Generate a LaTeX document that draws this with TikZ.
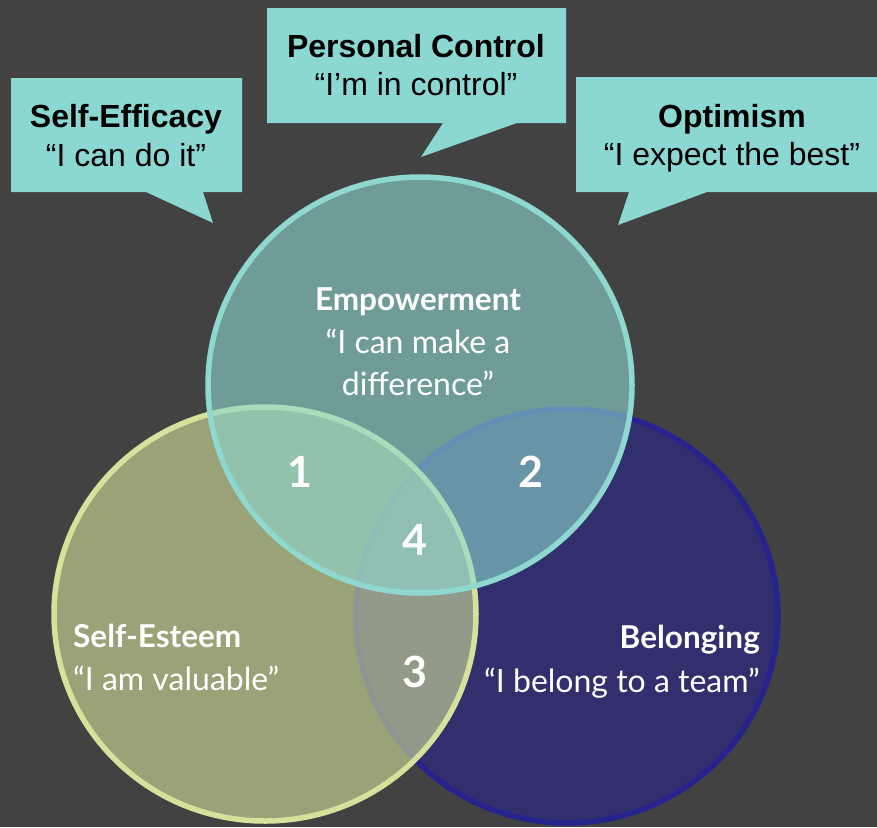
\documentclass[tikz,border=0pt]{standalone}
\usepackage{fontspec}
\setmainfont{Liberation Sans}
\newfontfamily\circfont{Lato}
\definecolor{bgc}{RGB}{66,66,66}
\definecolor{callc}{RGB}{139,216,210}
\definecolor{tealc}{RGB}{142,216,208}
\definecolor{yelc}{RGB}{214,226,156}
\definecolor{bluec}{RGB}{38,35,140}
\begin{document}
\begin{tikzpicture}[x=1pt,y=-1pt,
  callout/.style={fill=callc},
  ctitle/.style={anchor=base,inner sep=0pt,font=\fontsize{32}{38}\selectfont\bfseries,text=black},
  cquote/.style={anchor=base,inner sep=0pt,font=\fontsize{32}{38}\selectfont,text=black},
  vtitle/.style={inner sep=0pt,font=\circfont\fontsize{31.5}{36}\selectfont\bfseries,text=white},
  vquote/.style={inner sep=0pt,font=\circfont\fontsize{32}{36}\selectfont,text=white},
  vnum/.style={anchor=base,inner sep=0pt,font=\circfont\fontsize{43}{48}\selectfont\bfseries,text=white},
  ring/.style={line width=5.5pt,fill opacity=0.6}]
\useasboundingbox (0,0) rectangle (877,827);
\fill[bgc] (0,0) rectangle (877,827);

% speech-bubble callouts
\fill[callout] (11,78) -- (242,78) -- (242,192) -- (203,192) -- (213,223) -- (146,192) -- (11,192) -- cycle;
\fill[callout] (267,8) -- (566,8) -- (566,123) -- (517,123) -- (421,157) -- (443,123) -- (267,123) -- cycle;
\fill[callout] (576,77) -- (877,77) -- (877,192) -- (707,192) -- (618,225) -- (629,192) -- (576,192) -- cycle;

\node[ctitle] (effT) at (126,127) {Self-Efficacy};
\node[cquote] (effQ) at (126,166) {“I can do it”};
\node[ctitle] (ctlT) at (416,57) {Personal Control};
\node[cquote] (ctlQ) at (416,95) {“I’m in control”};
\node[ctitle] (optT) at (732,127) {Optimism};
\node[cquote] (optQ) at (732,165) {“I expect the best”};

% overlapping circles: blue, then yellow, then teal on top
\draw[ring,draw=bluec,fill=bluec] (567,616) ellipse [x radius=211, y radius=207];
\draw[ring,draw=yelc,fill=yelc] (265,614) ellipse [x radius=211, y radius=207];
\draw[ring,draw=tealc,fill=tealc] (420,385) ellipse [x radius=212, y radius=208];

\node[vtitle,anchor=base] (empT) at (418,310) {Empowerment};
\node[vquote,anchor=base] (empQ1) at (418,353) {“I can make a};
\node[vquote,anchor=base] (empQ2) at (418,395) {difference”};

\node[vtitle,anchor=base west] (estT) at (73,647) {Self-Esteem};
\node[vquote,anchor=base west] (estQ) at (73,690) {“I am valuable”};

\node[vtitle,anchor=base east] (belT) at (760,648) {Belonging};
\node[vquote,anchor=base east] (belQ) at (760,692) {“I belong to a team”};

\node[vnum] (n1) at (300,487) {1};
\node[vnum] (n2) at (531,487) {2};
\node[vnum] (n4) at (415,555) {4};
\node[vnum] (n3) at (415,687) {3};
\end{tikzpicture}
\end{document}
